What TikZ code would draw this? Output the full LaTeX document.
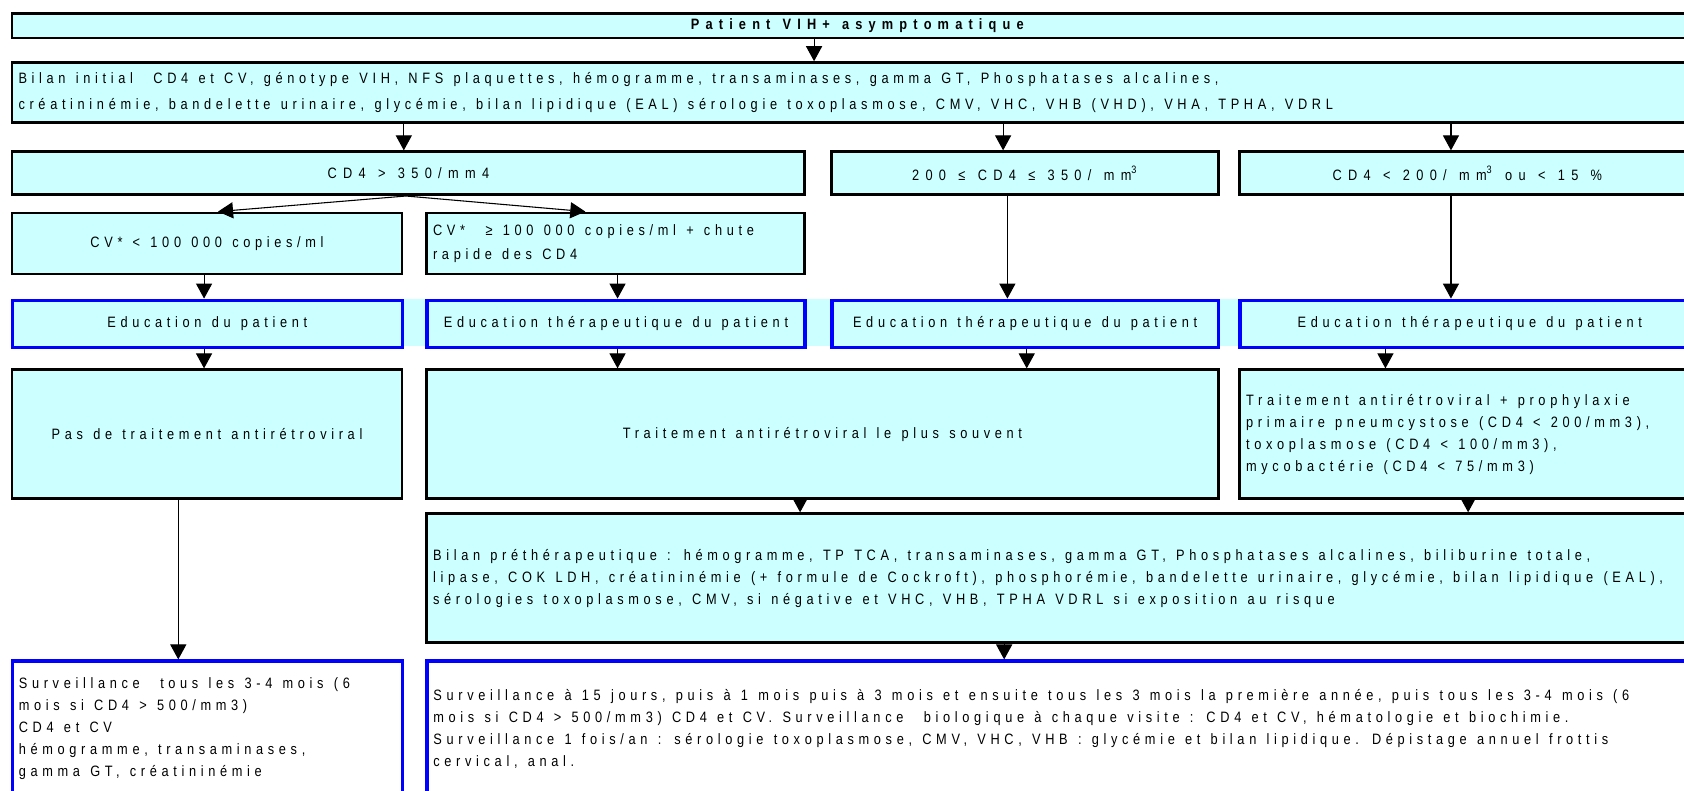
\documentclass[tikz,border=0pt]{standalone}
\usepackage{fontspec}
\setmainfont{Liberation Sans}[FakeStretch=0.85,LetterSpace=31,WordSpace=1.25,BoldFeatures={LetterSpace=41}]
\usetikzlibrary{arrows.meta}
\definecolor{pale}{RGB}{204,255,255}
\definecolor{edublue}{RGB}{0,0,255}
\tikzset{
  cell/.style 2 args={anchor=north west,minimum width=#1,minimum height=#2},
  box/.style={draw=black,line width=1.25pt,fill=pale,inner xsep=3pt,inner ysep=1pt},
  edu/.style={box,draw=edublue,line width=1.55pt},
  surv/.style={edu,fill=white},
  seuil/.style={box,font=\fontsize{7}{10.25}\selectfont\addfontfeatures{LetterSpace=42}},
  arr/.style={-{Triangle[width=7.5pt,length=7pt]},line width=0.5pt},
  txt/.style={align=flush left,text width=#1},
}

\begin{document}
\begin{tikzpicture}[x=0.5pt,y=-0.5pt,font=\fontsize{7}{10.25}\selectfont]
\useasboundingbox (0,0) rectangle (1568,736);
\clip (0,0) rectangle (1568,736);
\fill[pale] (10,278) rectangle (1600,322);
\node[box,cell={787pt}{11.5pt},font=\fontsize{7}{10.25}\selectfont\bfseries] (patient) at (10,11) {Patient VIH+ asymptomatique};
\node[box,cell={795pt}{28pt},txt=789pt,font=\fontsize{7}{11.75}\selectfont] (bilan) at (10,57) {Bilan initial \ CD4 et CV, génotype VIH, NFS plaquettes, hémogramme, transaminases, gamma GT, Phosphatases alcalines,\\
créatininémie, bandelette urinaire, glycémie, bilan lipidique (EAL) sérologie toxoplasmose, CMV, VHC, VHB (VHD), VHA, TPHA, VDRL};
% seuils CD4
\node[seuil,cell={369pt}{20pt}] (cdA) at (10,140) {CD4 > 350/mm4};
\node[seuil,cell={180pt}{20pt}] (cdB) at (773,140) {200 ≤ CD4 ≤ 350/ mm\textsuperscript{3}};
\node[seuil,cell={212pt}{20pt}] (cdC) at (1153,140) {CD4 < 200/ mm\textsuperscript{3} ou < 15 \%};
\node[box,cell={181.5pt}{28.5pt}] (cvA) at (10,197) {CV* < 100 000 copies/ml};
\node[box,cell={176pt}{28.5pt},txt=170pt,font=\fontsize{7}{11.25}\selectfont] (cvB) at (396,197) {CV* \ ≥ 100 000 copies/ml + chute\\ rapide des CD4};
% education
\node[edu,cell={181.5pt}{22pt}] (eduA) at (10,278) {Education du patient};
\node[edu,cell={176pt}{22pt}] (eduB) at (396,278) {Education thérapeutique du patient};
\node[edu,cell={180pt}{22pt}] (eduC) at (773,278) {Education thérapeutique du patient};
\node[edu,cell={214pt}{22pt}] (eduD) at (1153,278) {Education thérapeutique du patient};
% traitement
\node[box,cell={181.5pt}{60pt}] (trtA) at (10,343) {Pas de traitement antirétroviral};
\node[box,cell={368.5pt}{60pt}] (trtB) at (396,343) {Traitement antirétroviral le plus souvent};
\node[box,cell={223.5pt}{60pt},txt=217.5pt] (trtC) at (1153,343) {Traitement antirétroviral + prophylaxie\\ primaire pneumcystose (CD4 < 200/mm3),\\ toxoplasmose (CD4 < 100/mm3),\\ mycobactérie (CD4 < 75/mm3)};
\node[box,cell={602pt}{60pt},txt=596pt] (pre) at (396,477) {Bilan préthérapeutique : hémogramme, TP TCA, transaminases, gamma GT, Phosphatases alcalines, biliburine totale,\\ lipase, COK LDH, créatininémie (+ formule de Cockroft), phosphorémie, bandelette urinaire, glycémie, bilan lipidique (EAL),\\ sérologies toxoplasmose, CMV, si négative et VHC, VHB, TPHA VDRL si exposition au risque};
% surveillance
\node[surv,cell={181.5pt}{63pt},txt=175.5pt] (survA) at (10,614) {Surveillance \ tous les 3-4 mois (6\\ mois si CD4 > 500/mm3)\\ CD4 et CV\\ hémogramme, transaminases,\\ gamma GT, créatininémie};
\node[surv,cell={602pt}{63pt},txt=596pt] (survB) at (396,614) {Surveillance à 15 jours, puis à 1 mois puis à 3 mois et ensuite tous les 3 mois la première année, puis tous les 3-4 mois (6\\ mois si CD4 > 500/mm3) CD4 et CV. Surveillance \ biologique à chaque visite : CD4 et CV, hématologie et biochimie.\\ Surveillance 1 fois/an : sérologie toxoplasmose, CMV, VHC, VHB : glycémie et bilan lipidique. Dépistage annuel frottis\\ cervical, anal.};
% fleches
\draw[arr] (patient.south -| 758,0) -- (bilan.north -| 758,0);
\draw[arr] (bilan.south -| 376,0) -- (cdA.north -| 376,0);
\draw[arr] (bilan.south -| 934,0) -- (cdB.north -| 934,0);
\draw[arr] (bilan.south -| 1351,0) -- (cdC.north -| 1351,0);
\draw[arr] (cdA.south -| 378,0) -- (cvA.north -| 203,0);
\draw[arr] (cdA.south -| 378,0) -- (cvB.north -| 545,0);
\draw[arr] (cvA.south -| 190,0) -- (eduA.north -| 190,0);
\draw[arr] (cvB.south -| 575,0) -- (eduB.north -| 575,0);
\draw[arr] (cdB.south -| 938,0) -- (eduC.north -| 938,0);
\draw[arr] (cdC.south -| 1351,0) -- (eduD.north -| 1351,0);
\draw[arr] (eduA.south -| 190,0) -- (trtA.north -| 190,0);
\draw[arr] (eduB.south -| 575,0) -- (trtB.north -| 575,0);
\draw[arr] (eduC.south -| 956,0) -- (trtB.north -| 956,0);
\draw[arr] (eduD.south -| 1290,0) -- (trtC.north -| 1290,0);
\draw[arr] (trtB.south -| 745,0) -- (pre.north -| 745,0);
\draw[arr] (trtC.south -| 1367,0) -- (pre.north -| 1367,0);
\draw[arr] (trtA.south -| 166,0) -- (survA.north -| 166,0);
\draw[arr] (pre.south -| 935,0) -- (survB.north -| 935,0);
\end{tikzpicture}
\end{document}
